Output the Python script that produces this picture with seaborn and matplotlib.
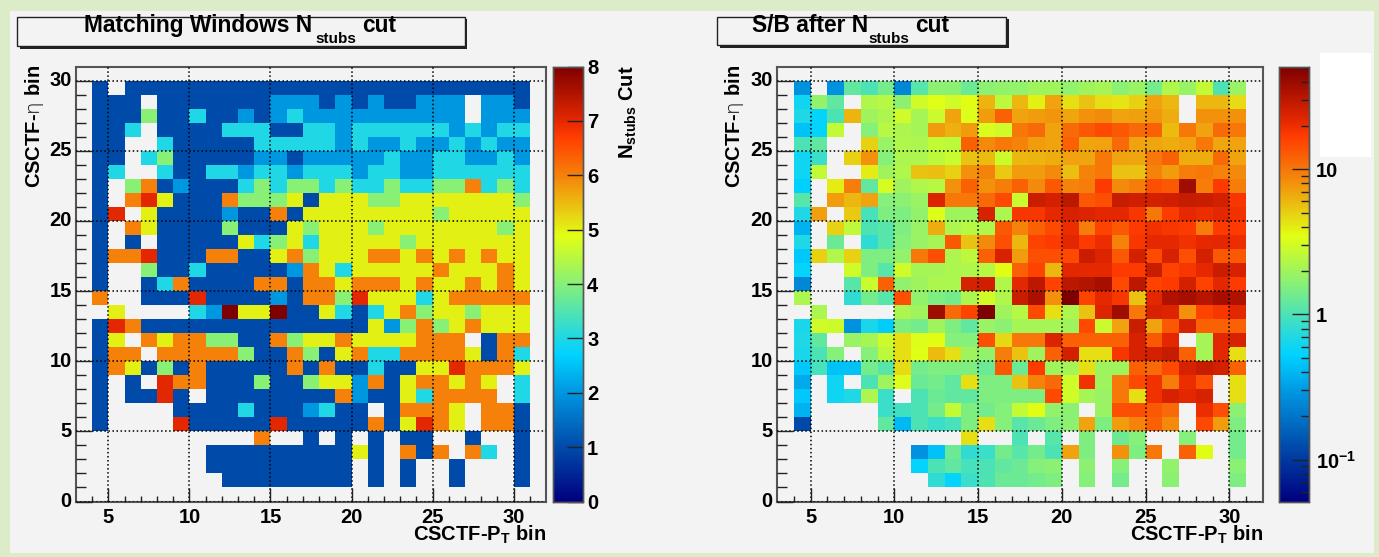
import numpy as np
import pandas as pd
import matplotlib
matplotlib.use('Agg')
import matplotlib.pyplot as plt
import seaborn as sns
from matplotlib.colors import LinearSegmentedColormap, LogNorm
from matplotlib.patches import Rectangle

W, H = 1379, 557
_ = np.nan

pt_bins = list(range(4, 31))
eta_bins = list(range(29, 0, -1))

# N_stubs cut per bin, one string per eta row from top to bottom, '.' = empty bin
nstubs_rows = [
    "1.1111111111111111111111111",
    "111.1111111222121211222.221",
    "11141131121232222222222.222",
    "113.11113331133233333323233",
    "11..31111133333232232232322",
    "11.34111112212" + "2222322332232",
    "13..3113323323" + "3323322333333",
    "1.46121113434" + "4" + "3433433446343",
    "1.67511164445" + "1" + "555445555555" + "4",
    "17.51111211615" + "5555555455555",
    "1.65111141115" + "4" + "5554555555545",
    "1.1.111115345" + "3" + "5555545555555",
    "16671116611564" + "5556656565655",
    "1..41131111126" + "5355555655565",
    "1..13611116616" + "6566656556565",
    "6..11171111216" + "6475553566666",
    ".5....32855811" + "5313564554555",
    "17611111111111" + "1115246456555",
    "15.65664411645" + "5655556" + "66.166",
    "166.6666641164" + "1563366665163",
    "16514161111161" + "6113115576665",
    "1.1.7661114114" + "55261566565.3",
    "1.1171.1111111" + "1621153" + "6666.3",
    "1....111131112" + "311.16665.661",
    "1....711111711" + "1116157" + "65.661",
    "..........6..1" + ".1.1.11..1..1",
    ".......1111111" + "1151.616.63.1",
    ".......1111111" + "11.1.1..1...1",
    "........111111" + "11.1.1..1...1",
]

# S/B after the cut, rows from top to bottom, same columns as above
sb_rows = [
    [.28, _, .28, 1.2, 1.0, 1.4, .25, 1.1, 1.7, 1.7, 1.3, 1.7, 1.8, 1.8, 2.0, 2.0, 1.8, 2.0, 2.1, 1.7, 1.9, 1.4, 2.3, 1.9, 2.7, 1.0, 1.9],
    [.6, 1.8, 1.2, _, 2.3, 2.4, 1.7, 3.0, 3.4, 3.0, 3.5, 6.2, 2.5, 6, 3.9, 7, 4.5, 5.5, 4.5, 4.2, 5, 7, 6, _, 6, 6, 4.6],
    [.7, .55, 1.0, 6.2, 2, 2.2, 3.0, 2.1, 2.8, 7, 3.3, 7.5, 12, 7, 7.5, 7.8, 6.8, 8, 8.5, 7, 7.3, 7.7, 6.5, _, 8, 8, 8],
    [.45, .55, 2.7, _, 1.6, 2.4, 2.2, 2.1, 7.5, 6.3, 7.5, 3.2, 3.0, 10, 11, 7, 11, 13, 15, 13, 11, 12, 5.8, 10, 7, 11, 10],
    [1.0, 1.2, _, _, 5, 1.9, 2.3, 2.2, 2.7, 2.5, 12, 8.5, 10, 9, 7.5, 7, 12, 6.8, 7, 11, 7, 6.8, 6.5, 7, 10, 6.8, 7],
    [.6, .85, _, 5, 8, 1.6, 2.2, 2.2, 2.5, 2.8, 5.5, 5.8, 2.9, 6, 6.2, 6.5, 7, 6.8, 10, 7, 6.8, 10, 12, 6.5, 6.5, 11, 7],
    [.6, 2.7, _, _, 4, 2, 2.3, 5.5, 5.7, 5, 8, 9, 5.2, 7.5, 7.5, 8.5, 5.7, 9, 10, 5.5, 5.5, 9, 7.5, 9.5, 10, 9, 8.5],
    [.52, _, 4, 9.5, 1.2, 3.1, 2, 2.3, 2.4, 8, 12, 8, 9.5, 12, 8.5, 13, 9, 9.5, 17, 8.5, 9.5, 14, 13, 38, 9.5, 17, 9.5],
    [1.1, _, 7.5, 6, 7, 1.6, 1.7, 1.9, 23, 10, 10, 11, 15, 2.8, 27, 25, 30, 13, 14, 28, 26, 25, 26, 28, 27, 25, 18],
    [.7, 7.3, _, 5.2, .95, 1.5, 1.5, 1.8, 3.3, 2, 2, 24, 2.2, 18, 18, 21, 24, 23, 22, 22, 18, 10, 17, 21, 20, 22, 19],
    [.38, _, 5, 2.6, 1.0, 1.1, 1.5, 1.9, 6.5, 2.2, 2.4, 2.3, 13, 9, 12, 15, 20, 9.5, 16, 13, 17, 19, 18, 17, 9.5, 17, 17],
    [.7, _, 1.3, _, .8, 1.1, 1.6, 1.9, 2.1, 13, 5.5, 8.5, 14, 6, 16, 17, 22, 17, 20, 9, 18, 21, 21, 19, 21, 22, 20],
    [.47, 5, 2.3, 5, 1.5, 1.5, 1.8, 10, 14, 2.2, 2.5, 12, 24, 7.5, 14, 14, 15, 27, 23, 13, 25, 15, 24, 14, 25, 13, 13],
    [.55, _, _, 3, 1.5, 1.1, 3, 2.1, 2.1, 2.2, 2.3, 2.4, 3.5, 12, 16, 6, 22, 21, 21, 17, 17, 27, 16, 18, 21, 27, 24],
    [.25, _, _, 1.1, 2.8, 12, 1.8, 2, 2.2, 2.2, 24, 26, 2.3, 22, 30, 16, 30, 33, 36, 15, 30, 16, 17, 25, 16, 22, 17],
    [2.2, _, _, .8, 1.4, 1.1, 14, 1.8, 1.5, 1.4, 2.2, 3, 2.3, 27, 35, 8, 50, 16, 21, 18, 5.5, 22, 34, 36, 32, 36, 34],
    [_, 2.2, _, _, _, _, 2.2, 2.0, 38, 11, 16, 50, 2, 2.4, 15, 4.5, 2.2, 5.5, 23, 38, 10, 24, 23, 8, 16, 18, 22],
    [.65, 3, 2.9, .28, .65, .5, 1.5, 1.4, 2, 1.5, 1.2, 1.9, 1.7, 2.1, 2.1, 2.1, 2.0, 15, 2.8, 7, 27, 7, 13, 24, 12, 12, 12],
    [.7, 1.2, _, 1.9, 2.1, 2.9, 4.5, 3.3, 3.5, 1.6, 1.6, 14, 4.7, 10, 10, 23, 12, 12, 12, 12, 24, 13, 22, _, 2.1, 22, 24],
    [.65, 1.0, 1.6, _, 1.6, 2.5, 4.4, 3.4, 5.8, 4.5, 2, 1.8, 9.5, 5.5, 2, 12, 25, 4.5, 4.5, 18, 24, 25, 28, 12, 2.1, 22, 4.5],
    [.48, .95, .45, .45, 1.4, 1.1, 4.6, 1.4, 1.5, 1.5, 1.5, 1.3, 13, 1.3, 17, 2, 2.1, 4.5, 2, 2, 12, 11, 15, 24, 28, 25, 12],
    [.35, _, .6, _, 1.0, 2, 3.3, 1.3, 1.4, 1.2, 4.4, 1.5, 1.5, 5.5, 9, 11, 3, 19, 2, 10, 15, 19, 9.5, 20, 14, _, 4.5],
    [.48, _, .6, .7, 2.2, .85, _, 1, 1.3, 1.2, 1.2, 1.5, 1.5, 1.5, 1.5, 15, 3, 2.1, 1.9, 10, 4.5, 19, 24, 22, 24, _, 4.4],
    [.38, _, _, _, _, .85, .9, 1, 1.4, 2.7, 1.5, 1.4, 1.6, 2.7, 3.5, 1.8, 1.7, _, 1.9, 14, 14, 13, 11, _, 20, 14, 1.7],
    [.12, _, _, _, _, 1.2, .4, 1, .85, .95, 1.5, 4.5, 1.6, 1.1, 1.3, 1.5, 1.7, 7, 1.5, 7.5, 9, 12, 8.5, _, 15, 7.5, 1.5],
    [_, _, _, _, _, _, _, _, _, _, 4.5, _, _, 1.0, _, 1.1, _, 1.5, _, 1.3, 1.6, _, _, 1.6, _, _, 1.4],
    [_, _, _, _, _, _, _, .28, .45, 1.3, .8, .85, 1.4, 1.1, 1.4, 1.0, 7, 1.5, _, 8, 1.5, 10, _, 12, 3.5, _, 1.4],
    [_, _, _, _, _, _, _, .55, 1.0, 1.2, .95, 1.0, 1.2, 1.3, 1.6, 1.7, _, 1.7, _, 1.6, _, _, 1.8, _, _, _, 1.7],
    [_, _, _, _, _, _, _, _, .8, .55, .85, 1.0, 1.3, 1.3, 1.4, 1.5, _, 1.6, _, 1.4, _, _, 1.7, _, _, _, 1.5],
]

x_ticks = [5, 10, 15, 20, 25, 30]
y_ticks = [0, 5, 10, 15, 20, 25, 30]
sb_major = [0.1, 1, 10]
sb_minor = [.06, .07, .08, .09, .2, .3, .4, .5, .6, .7, .8, .9, 2, 3, 4, 5, 6, 7, 8, 9, 20, 30, 40, 50]

root_cmap = LinearSegmentedColormap.from_list('root_rainbow', [
    (0.0, '#00007f'), (0.125, '#004baa'), (0.25, '#0096e1'), (0.336, '#00d2ff'),
    (0.375, '#1ed7e6'), (0.5, '#87f078'), (0.61, '#e1ff14'), (0.65, '#e6dc14'),
    (0.75, '#f5820a'), (0.84, '#ff3c00'), (0.875, '#e62800'), (1.0, '#7f0000'),
])

plt.rcParams['font.family'] = ['Liberation Sans', 'DejaVu Sans']
plt.rcParams['font.weight'] = 'bold'
plt.rcParams['mathtext.fontset'] = 'custom'
plt.rcParams['mathtext.bf'] = 'Liberation Sans:bold'
plt.rcParams['mathtext.rm'] = 'DejaVu Sans:weight=light'
plt.rcParams['mathtext.it'] = 'DejaVu Sans:weight=light'

BG = '#f3f3f3'
EDGE = '#555555'
TICK_SIZE = 14.5


def px_axes(fig, left, top, right, bottom):
    return fig.add_axes([left / W, 1 - bottom / H, (right - left) / W, (bottom - top) / H])


def px_text(fig, x, y, s, **kw):
    return fig.text(x / W, 1 - y / H, s, **kw)


def to_frame(values):
    df = pd.DataFrame(values, index=eta_bins, columns=pt_bins, dtype=float)
    return df.reindex(index=range(30, -1, -1), columns=range(3, 32))


def draw_panel(ax, cax, df, **kw):
    sns.heatmap(df, ax=ax, cbar_ax=cax, cmap=root_cmap, **kw)
    ax.set_facecolor(BG)
    ax.set_xticks([v - 3 for v in x_ticks], [str(v) for v in x_ticks], rotation=0)
    ax.set_yticks([31 - v for v in y_ticks], [str(v) for v in y_ticks], rotation=0)
    ax.set_xticks(np.arange(1, 29), minor=True)
    ax.set_yticks(np.arange(1, 31), minor=True)
    ax.set_xlabel('')
    ax.set_ylabel('')
    ax.tick_params(axis='x', which='major', direction='in', length=10, width=1,
                   color='#222222', labelsize=TICK_SIZE, pad=4.5)
    ax.tick_params(axis='y', which='major', direction='in', length=11.5, width=1,
                   color='#222222', labelsize=TICK_SIZE, pad=3)
    ax.tick_params(axis='x', which='minor', direction='in', length=4.5, width=1, color='#222222')
    ax.tick_params(axis='y', which='minor', direction='in', length=7, width=1, color='#222222')
    ax.grid(True, which='major', linestyle=':', color='black', linewidth=1.1)
    ax.set_axisbelow(False)
    for sp in ax.spines.values():
        sp.set_visible(True)
        sp.set_color(EDGE)
        sp.set_linewidth(1.5)
    for sp in cax.spines.values():
        sp.set_visible(True)
        sp.set_color(EDGE)
        sp.set_linewidth(1.0)


def title_box(fig, left, top, right, bottom):
    fig.add_artist(Rectangle(((left + 2.5) / W, 1 - (bottom + 2.5) / H), (right - left) / W, (bottom - top) / H,
                             transform=fig.transFigure, facecolor='#222222', edgecolor='none'))
    fig.add_artist(Rectangle((left / W, 1 - bottom / H), (right - left) / W, (bottom - top) / H,
                             transform=fig.transFigure, facecolor=BG, edgecolor='#222222', lw=1.0))


fig = plt.figure(figsize=(W / 100, H / 100), dpi=100, facecolor='#dcebc8')
fig.add_artist(Rectangle((10 / W, 1 - 553 / H), 1364 / W, 542 / H, transform=fig.transFigure,
                         facecolor=BG, edgecolor='none', zorder=-5))

# left panel
ax1 = px_axes(fig, 76, 66.5, 546, 501.5)
cax1 = px_axes(fig, 553, 66.5, 583, 501.5)
left_values = [[float(c) if c != '.' else _ for c in row] for row in nstubs_rows]
draw_panel(ax1, cax1, to_frame(left_values), vmin=0, vmax=8)
cax1.set_yticks(range(9))
cax1.tick_params(axis='y', direction='in', length=11.5, width=1, color='#222222',
                 labelsize=TICK_SIZE, pad=3, right=True, left=False)

# right panel
ax2 = px_axes(fig, 777, 66.5, 1263, 501.5)
cax2 = px_axes(fig, 1279, 66.5, 1309, 501.5)
draw_panel(ax2, cax2, to_frame(sb_rows), norm=LogNorm(vmin=0.0515, vmax=51))
cax2.set_yticks(sb_major, ['$\\mathbf{10^{-1}}$', '1', '10'])
cax2.set_yticks(sb_minor, minor=True)
cax2.set_yticklabels([], minor=True)
cax2.tick_params(axis='y', which='major', direction='in', length=12, width=1, color='#222222',
                 labelsize=TICK_SIZE, pad=5, right=True, left=False)
cax2.tick_params(axis='y', which='minor', direction='in', length=6, width=1, color='#222222',
                 right=True, left=False)

# white patch over the corner of the right palette label area
fig.add_artist(Rectangle((1320 / W, 1 - 157 / H), 51 / W, 104 / H, transform=fig.transFigure,
                         facecolor='white', edgecolor='none'))

# titles
title_box(fig, 17, 16.5, 464.5, 46)
title_box(fig, 717, 16.5, 1006, 45)
T_SIZE = 16.4
SUB_SIZE = 11
px_text(fig, 84, 32, 'Matching Windows N', fontsize=T_SIZE, fontweight='bold')
px_text(fig, 315, 43, 'stubs', fontsize=SUB_SIZE, fontweight='bold')
px_text(fig, 362, 32, 'cut', fontsize=T_SIZE, fontweight='bold')
px_text(fig, 752, 32, 'S/B after N', fontsize=T_SIZE, fontweight='bold')
px_text(fig, 868, 43, 'stubs', fontsize=SUB_SIZE, fontweight='bold')
px_text(fig, 915, 32, 'cut', fontsize=T_SIZE, fontweight='bold')

# axis labels
LABEL_SIZE = 14.5
x_label = 'CSCTF-P$_{\\mathbf{T}}$ bin'
y_label = 'CSCTF-$\\mathrm{\\eta}$ bin'
px_text(fig, 546, 541, x_label, fontsize=LABEL_SIZE, ha='right', va='baseline')
px_text(fig, 1263, 541, x_label, fontsize=LABEL_SIZE, ha='right', va='baseline')
px_text(fig, 46, 65, y_label, fontsize=LABEL_SIZE, rotation=90, ha='right', va='top')
px_text(fig, 746, 65, y_label, fontsize=LABEL_SIZE, rotation=90, ha='right', va='top')
px_text(fig, 639, 65, 'N$_{\\mathbf{stubs}}$ Cut', fontsize=LABEL_SIZE, rotation=90, ha='right', va='top')

fig.savefig('out.png', dpi=100, facecolor=fig.get_facecolor())
